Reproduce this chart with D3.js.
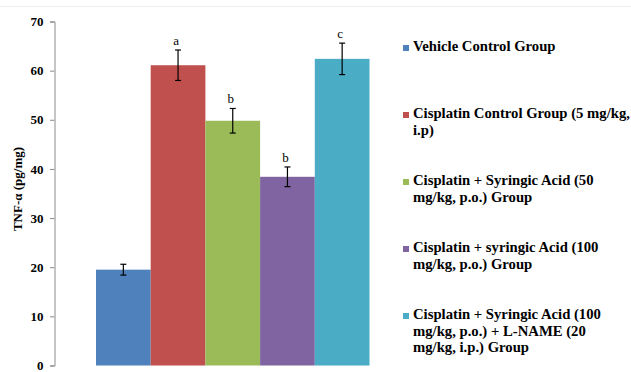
<!DOCTYPE html>
<html>
<head>
<meta charset="utf-8">
<script src="https://cdn.jsdelivr.net/npm/d3@7"></script>
<style>
  body { margin: 0; background: #fff; }
</style>
</head>
<body>
<svg id="chart" width="631" height="372"></svg>
<script>
var serif = "'Liberation Serif', 'Times New Roman', serif";
var groups = ['Vehicle Control Group', 'Cisplatin Control Group (5 mg/kg, i.p)',
  'Cisplatin + Syringic Acid (50 mg/kg, p.o.) Group',
  'Cisplatin + syringic Acid (100 mg/kg, p.o.) Group',
  'Cisplatin + Syringic Acid (100 mg/kg, p.o.) + L-NAME (20 mg/kg, i.p.) Group'];
var means = [19.5, 61.1, 49.8, 38.4, 62.4];
var errors = [1.1, 3.1, 2.5, 2.0, 3.2];
var letters = ['', 'a', 'b', 'b', 'c'];
var colors = ['#4f81bd', '#c0504d', '#9bbb59', '#8064a2', '#4bacc6'];
var legendLines = [
  ['Vehicle Control Group'],
  ['Cisplatin Control Group (5 mg/kg,', 'i.p)'],
  ['Cisplatin + Syringic Acid (50', 'mg/kg, p.o.) Group'],
  ['Cisplatin + syringic Acid (100', 'mg/kg, p.o.) Group'],
  ['Cisplatin + Syringic Acid (100', 'mg/kg, p.o.) + L-NAME (20', 'mg/kg, i.p.) Group']
];
var yTicks = [0, 10, 20, 30, 40, 50, 60, 70];

var svg = d3.select('#chart').attr('font-family', serif);

svg.append('line').attr('x1', 0).attr('x2', 631).attr('y1', 6.5).attr('y2', 6.5)
  .attr('stroke', '#eeeeee');

var y = d3.scaleLinear().domain([0, 70]).range([365.5, 21.5]);
var x = d3.scaleBand().domain(d3.range(groups.length)).range([96, 369.5]).padding(0);

var yAxis = svg.append('g').attr('transform', 'translate(54.5,0)')
  .call(d3.axisLeft(y).tickValues(yTicks).tickSize(4.5).tickPadding(6.5));
yAxis.attr('font-family', serif).attr('font-weight', 'bold').attr('font-size', 13);
yAxis.select('.domain').attr('stroke', '#8c8c8c');
yAxis.selectAll('.tick line').attr('stroke', '#8c8c8c');
yAxis.selectAll('.tick text').attr('fill', '#000');

svg.append('text')
  .attr('transform', 'translate(19,189) rotate(-90)')
  .attr('text-anchor', 'middle')
  .attr('dominant-baseline', 'middle')
  .attr('font-size', 13).attr('font-weight', 'bold')
  .text('TNF-α (pg/mg)');

// bars
svg.selectAll('rect.bar').data(means).enter().append('rect')
  .attr('class', 'bar')
  .attr('x', function(d, i) { return x(i); })
  .attr('width', x.bandwidth())
  .attr('y', function(d) { return y(d); })
  .attr('height', function(d) { return y(0) - y(d); })
  .attr('fill', function(d, i) { return colors[i]; });

// error bars
var eb = svg.selectAll('g.err').data(means).enter().append('g').attr('class', 'err')
  .attr('stroke', '#000').attr('stroke-width', 1.2);
eb.append('line')
  .attr('x1', function(d, i) { return x(i) + x.bandwidth() / 2; })
  .attr('x2', function(d, i) { return x(i) + x.bandwidth() / 2; })
  .attr('y1', function(d, i) { return y(d + errors[i]); })
  .attr('y2', function(d, i) { return y(d - errors[i]); });
[1, -1].forEach(function(s) {
  eb.append('line')
    .attr('x1', function(d, i) { return x(i) + x.bandwidth() / 2 - 3; })
    .attr('x2', function(d, i) { return x(i) + x.bandwidth() / 2 + 3; })
    .attr('y1', function(d, i) { return y(d + s * errors[i]); })
    .attr('y2', function(d, i) { return y(d + s * errors[i]); });
});

// significance letters
svg.selectAll('text.sig').data(means).enter().append('text')
  .attr('class', 'sig')
  .attr('x', function(d, i) { return x(i) + x.bandwidth() / 2 - 2; })
  .attr('y', function(d, i) { return y(d + errors[i]) - 5; })
  .attr('text-anchor', 'middle')
  .attr('font-size', 13)
  .text(function(d, i) { return letters[i]; });

// legend
var legend = svg.selectAll('g.leg').data(legendLines).enter().append('g')
  .attr('class', 'leg')
  .attr('transform', function(d, i) { return 'translate(403,' + (48 + i * 67) + ')'; });
legend.append('rect').attr('x', 0).attr('y', -3).attr('width', 6).attr('height', 6)
  .attr('fill', function(d, i) { return colors[i]; });
legend.each(function(lines) {
  var t = d3.select(this).append('text').attr('x', 10).attr('y', 0)
    .attr('font-size', 14.7).attr('font-weight', 'bold').attr('dominant-baseline', 'middle');
  lines.forEach(function(l, j) {
    t.append('tspan').attr('x', 10).attr('y', j * 16.5).text(l);
  });
});
</script>
</body>
</html>
